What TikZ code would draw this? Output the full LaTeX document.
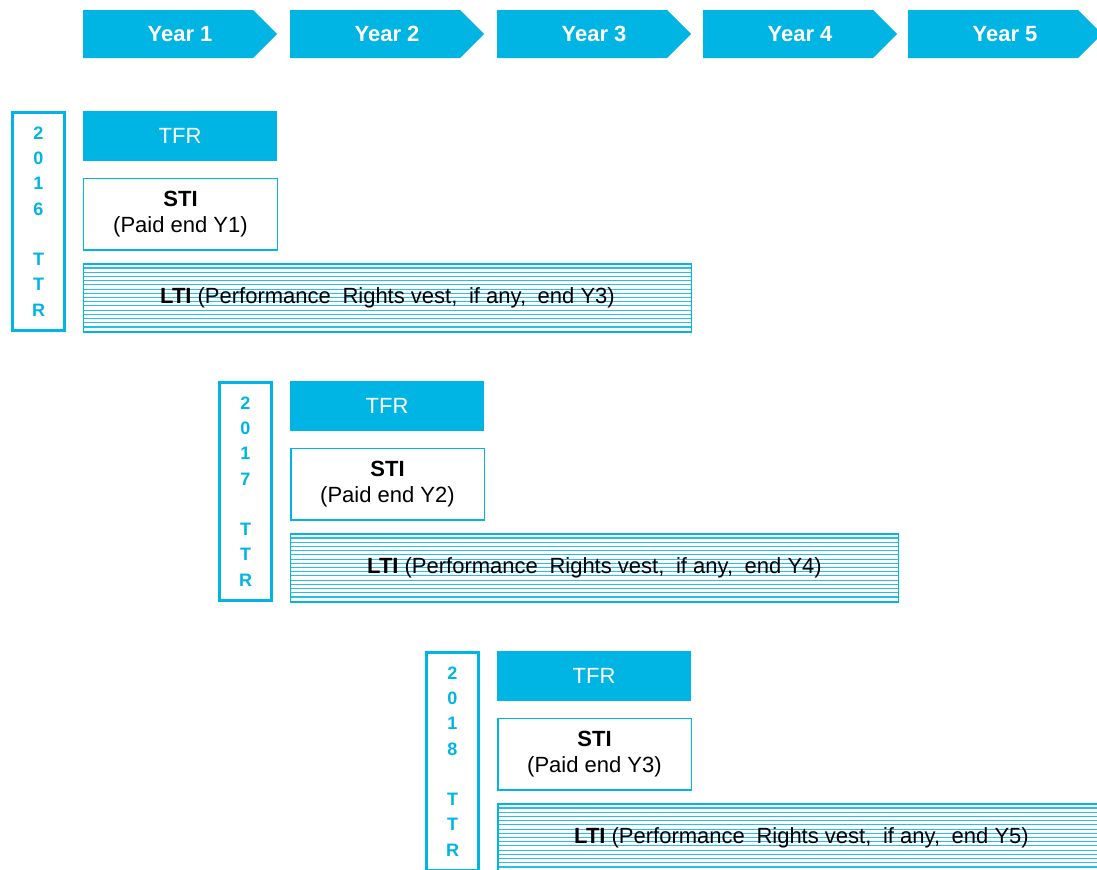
\documentclass[tikz,border=0pt]{standalone}
\usepackage{fontspec}
\setmainfont{Liberation Sans}
\usetikzlibrary{calc}
\definecolor{tealblue}{RGB}{0,180,228}
\definecolor{hatchblue}{RGB}{40,190,235}
\tikzset{
  yearlabel/.style={text=white, inner sep=0pt, font=\fontsize{22bp}{26bp}\selectfont\bfseries},
  ttrbox/.style={draw=tealblue, line width=3bp, minimum width=52bp, minimum height=218bp, inner sep=0pt,
    text=tealblue, align=center, font=\fontsize{18bp}{25.3bp}\selectfont\bfseries},
  tfrbox/.style={fill=tealblue, text=white, minimum width=194bp, minimum height=50bp, inner sep=0pt,
    font=\fontsize{22bp}{26bp}\selectfont},
  stibox/.style={draw=tealblue, line width=1.5bp, minimum width=193.5bp, minimum height=71.5bp, inner sep=0pt,
    align=center, font=\fontsize{22bp}{26bp}\selectfont},
  hatch/.style={draw=hatchblue, line width=1.1bp},
  ltibox/.style={draw=tealblue, line width=1.5bp, minimum width=607.5bp, minimum height=67.5bp, inner sep=0pt,
    font=\fontsize{22bp}{26bp}\selectfont,
    path picture={
      \foreach \h in {1,...,15}
        \draw [hatch] ($(path picture bounding box.north west)!\h/16!(path picture bounding box.south west)$)
          -- ($(path picture bounding box.north east)!\h/16!(path picture bounding box.south east)$);
    }}
}
\begin{document}
\begin{tikzpicture}[x=1bp,y=-1bp]
\useasboundingbox (0,0) rectangle (1097,870);
\clip (0,0) rectangle (1097,870);
\foreach \i/\x in {1/83,2/290,3/497,4/703,5/908} {
  \fill [tealblue] (\x,10) -- ++(170,0) -- ++(24,24) -- ++(-24,24) -- ++(-170,0) -- cycle;
  \node [yearlabel] (year\i) at (\x+97,34) {Year \i};
}
\foreach \d [count=\n] in {6,7,8} {
  \pgfmathtruncatemacro\m{\n+2}
  \begin{scope}[shift={(207*\n-207,270*\n-270)}]
    \node [ttrbox] (ttr\n) at (38.5,221.5) {2\\0\\1\\\d\\[25bp]T\\T\\R};
    \node [tfrbox] (tfr\n) at (180,136) {TFR};
    \node [stibox] (sti\n) at (180.5,214) {\textbf{STI}\\(Paid end Y\n)};
    \node [ltibox] (lti\n) at (387.5,297.5) {\textbf{LTI} (Performance\hspace{0.25em} Rights vest,\hspace{0.25em} if any,\hspace{0.25em} end Y\m)};
    \draw [tealblue, line width=2.5bp] (lti\n.south west) -- (lti\n.south east);
  \end{scope}
}
\end{tikzpicture}
\end{document}
